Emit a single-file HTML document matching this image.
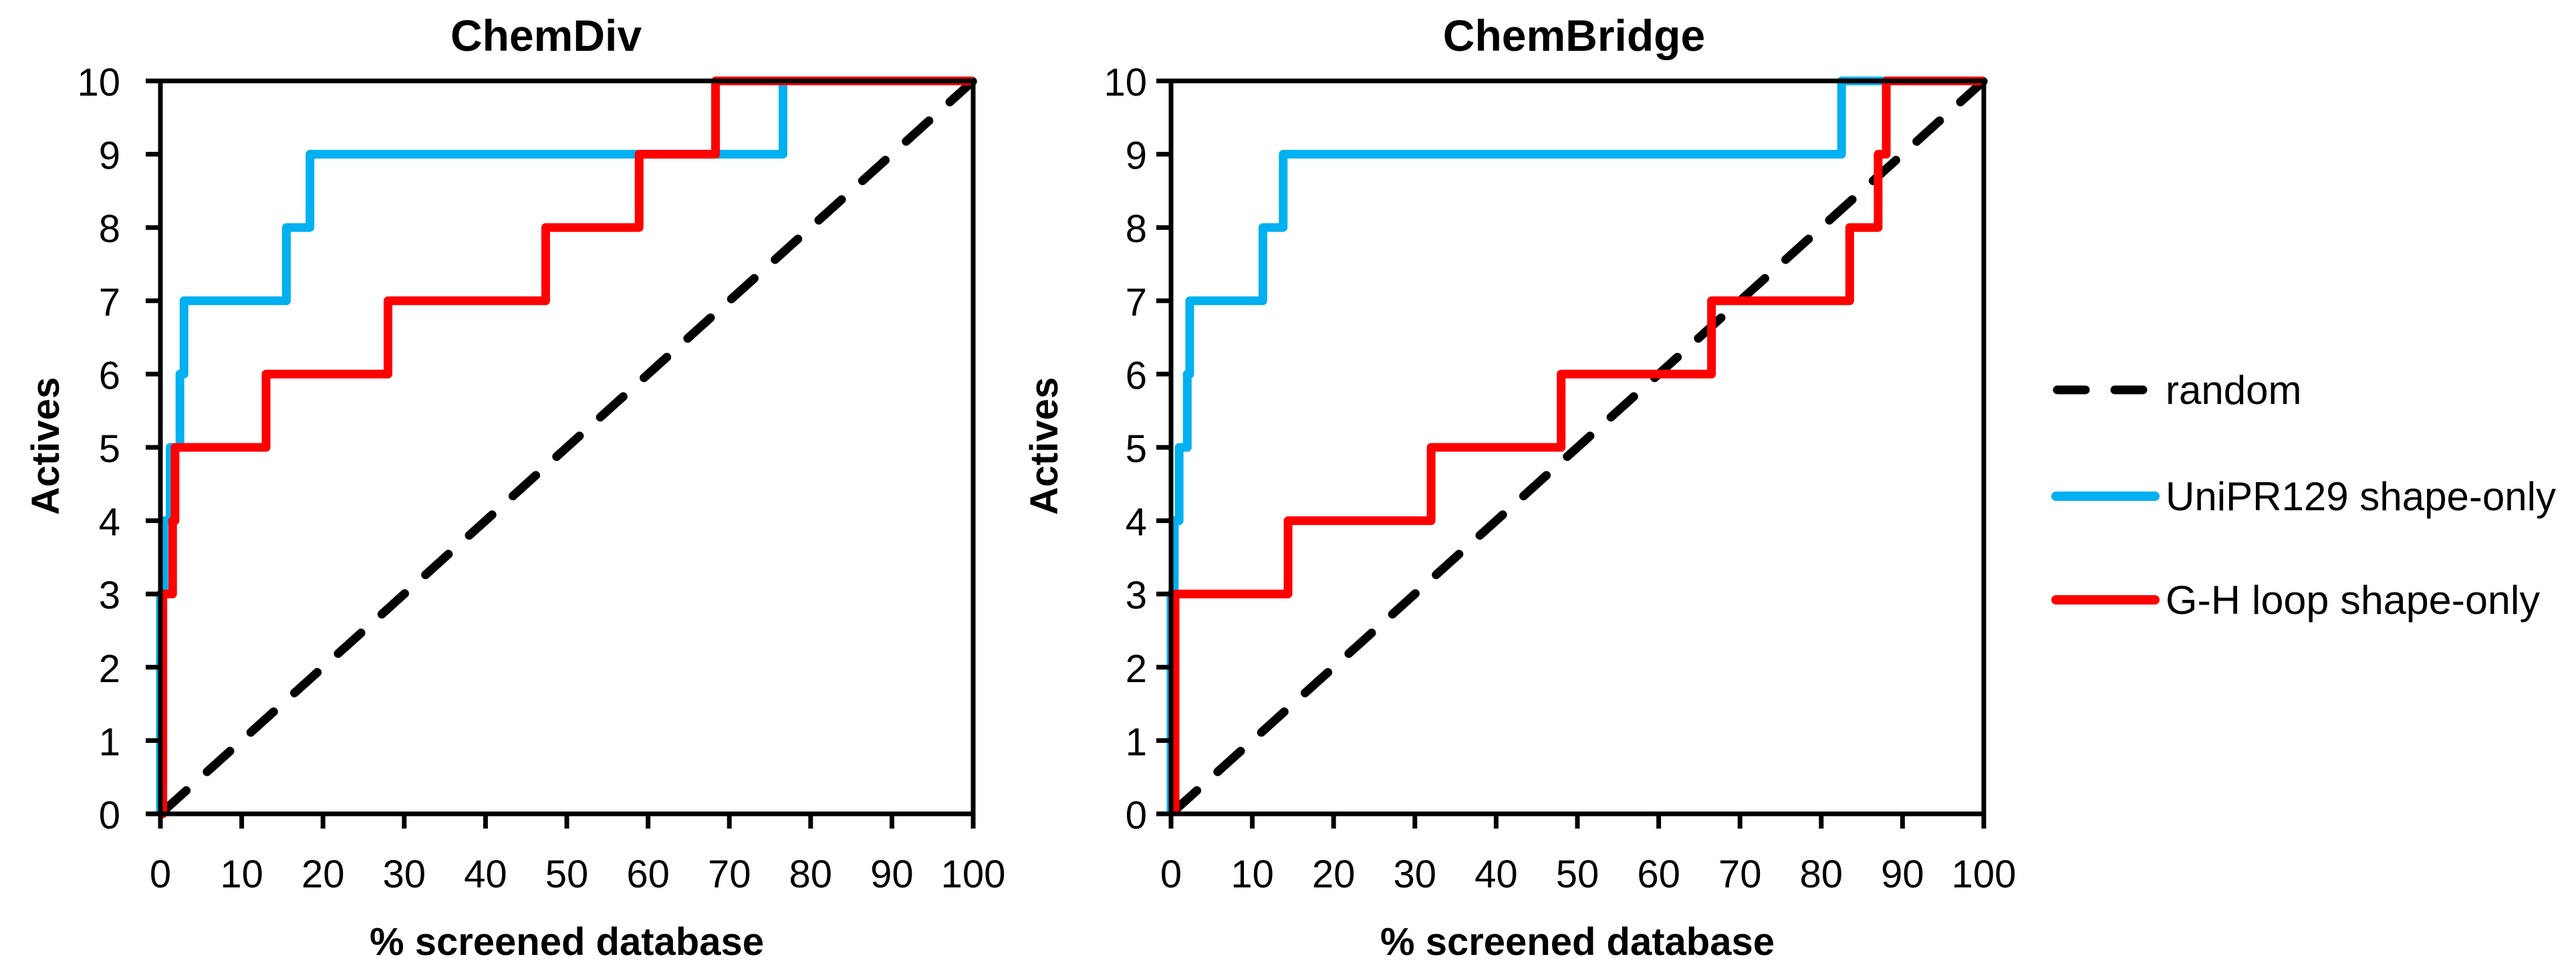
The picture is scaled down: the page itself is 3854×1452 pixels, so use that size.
<!DOCTYPE html>
<html><head><meta charset="utf-8"><style>
html,body{margin:0;padding:0;background:#fff;}
svg{display:block;}
text{font-family:"Liberation Sans",sans-serif;fill:#000;}
</style></head><body>
<svg id="chart" width="3854" height="1452" viewBox="0 0 3854 1452" xmlns="http://www.w3.org/2000/svg">
<g>
 <line x1="3078" y1="583" x2="3224" y2="583" stroke="#000" stroke-width="13" stroke-dasharray="42,44" stroke-linecap="round"/>
 <text x="3240" y="604" font-size="60">random</text>
 <line x1="3076" y1="742" x2="3224" y2="742" stroke="#00B0F0" stroke-width="14" stroke-linecap="round"/>
 <text x="3240" y="763" font-size="60" textLength="584" lengthAdjust="spacingAndGlyphs">UniPR129 shape-only</text>
 <line x1="3076" y1="897" x2="3224" y2="897" stroke="#FF0000" stroke-width="14" stroke-linecap="round"/>
 <text x="3240" y="918" font-size="60" textLength="560" lengthAdjust="spacingAndGlyphs">G-H loop shape-only</text>
</g>
</svg>
<script>
const xTicks = [0,10,20,30,40,50,60,70,80,90,100];
const yTicks = [0,1,2,3,4,5,6,7,8,9,10];
const chemDivBlueSteps = [0,0,0,0,0.4,1.2,2.4,2.9,15.5,18.4,76.6];
const chemDivRedSteps = [0,0.3,0.3,0.3,1.5,1.8,13,28,47.4,58.9,68.3];
const chemBridgeBlueSteps = [0,0,0,0,0.4,1.0,2.0,2.3,11.3,13.8,82.5];
const chemBridgeRedSteps = [0.5,0.5,0.5,0.5,14.4,32,48,66.5,83.5,87,88];
const randomLine = [[0,0],[100,10]];

const NS='http://www.w3.org/2000/svg';
const svg=document.getElementById('chart');
function mk(tag,attrs,parent){const e=document.createElementNS(NS,tag);for(const k in attrs)e.setAttribute(k,attrs[k]);(parent||svg).appendChild(e);return e;}

function drawPanel(key,title,x0,x1,y0,y1,titleX,ylabX,yTickRight,blue,red){
  const g=mk('g',{});
  
  
  const X=v=>x0+(x1-x0)*v/100;
  const Y=v=>y0-(y0-y1)*v/10;
  // series
  function stepPath(steps){
    let d='M'+X(steps[0])+','+Y(0);
    for(let k=1;k<steps.length;k++){d+=' L'+X(steps[k])+','+Y(k-1)+' L'+X(steps[k])+','+Y(k);}
    d+=' L'+X(100)+','+Y(10);
    return d;
  }
  const rnd=mk('line',{x1:X(randomLine[0][0]),y1:Y(randomLine[0][1]),x2:X(randomLine[1][0]),y2:Y(randomLine[1][1]),stroke:'#000','stroke-width':13,'stroke-dasharray':'46,42','stroke-linecap':'round','stroke-dashoffset':'-6'},g);
  
  
  const b=mk('path',{d:stepPath(blue),fill:'none',stroke:'#00B0F0','stroke-width':13,'stroke-linejoin':'round'},g);
  
  
  const r=mk('path',{d:stepPath(red),fill:'none',stroke:'#FF0000','stroke-width':13,'stroke-linejoin':'round'},g);
  
  
  // frame
  const fr=mk('rect',{x:x0,y:y1,width:x1-x0,height:y0-y1,fill:'none',stroke:'#000','stroke-width':7},g);
  
  
  xTicks.forEach(v=>{
    const t=mk('line',{x1:X(v),y1:y0,x2:X(v),y2:y0+22,stroke:'#000','stroke-width':7},g);
    
    
    const l=mk('text',{x:X(v),y:y0+110,'font-size':58,'text-anchor':'middle'},g);
    l.textContent=v;
    
    
  });
  yTicks.forEach(v=>{
    const t=mk('line',{x1:x0-22,y1:Y(v),x2:x0,y2:Y(v),stroke:'#000','stroke-width':7},g);
    
    
    const l=mk('text',{x:yTickRight,y:Y(v)+22,'font-size':58,'text-anchor':'end'},g);
    l.textContent=v;
    
    
  });
  const tt=mk('text',{x:titleX,y:76,'font-size':66,'font-weight':'bold','text-anchor':'middle'},g);
  tt.textContent=title;
  
  
  const xl=mk('text',{x:(x0+x1)/2,y:1428,'font-size':58,'font-weight':'bold','text-anchor':'middle'},g);
  xl.textContent='% screened database';
  
  
  const yl=mk('text',{x:0,y:0,'font-size':58,'font-weight':'bold','text-anchor':'middle',transform:'translate('+ylabX+',667) rotate(-90)'},g);
  yl.textContent='Actives';
  
  
}
drawPanel('chemdiv','ChemDiv',240,1456,1217,121,817,88,180,chemDivBlueSteps,chemDivRedSteps);
drawPanel('chembridge','ChemBridge',1752,2968,1217,121,2355,1582,1716,chemBridgeBlueSteps,chemBridgeRedSteps);
</script>
</body></html>
